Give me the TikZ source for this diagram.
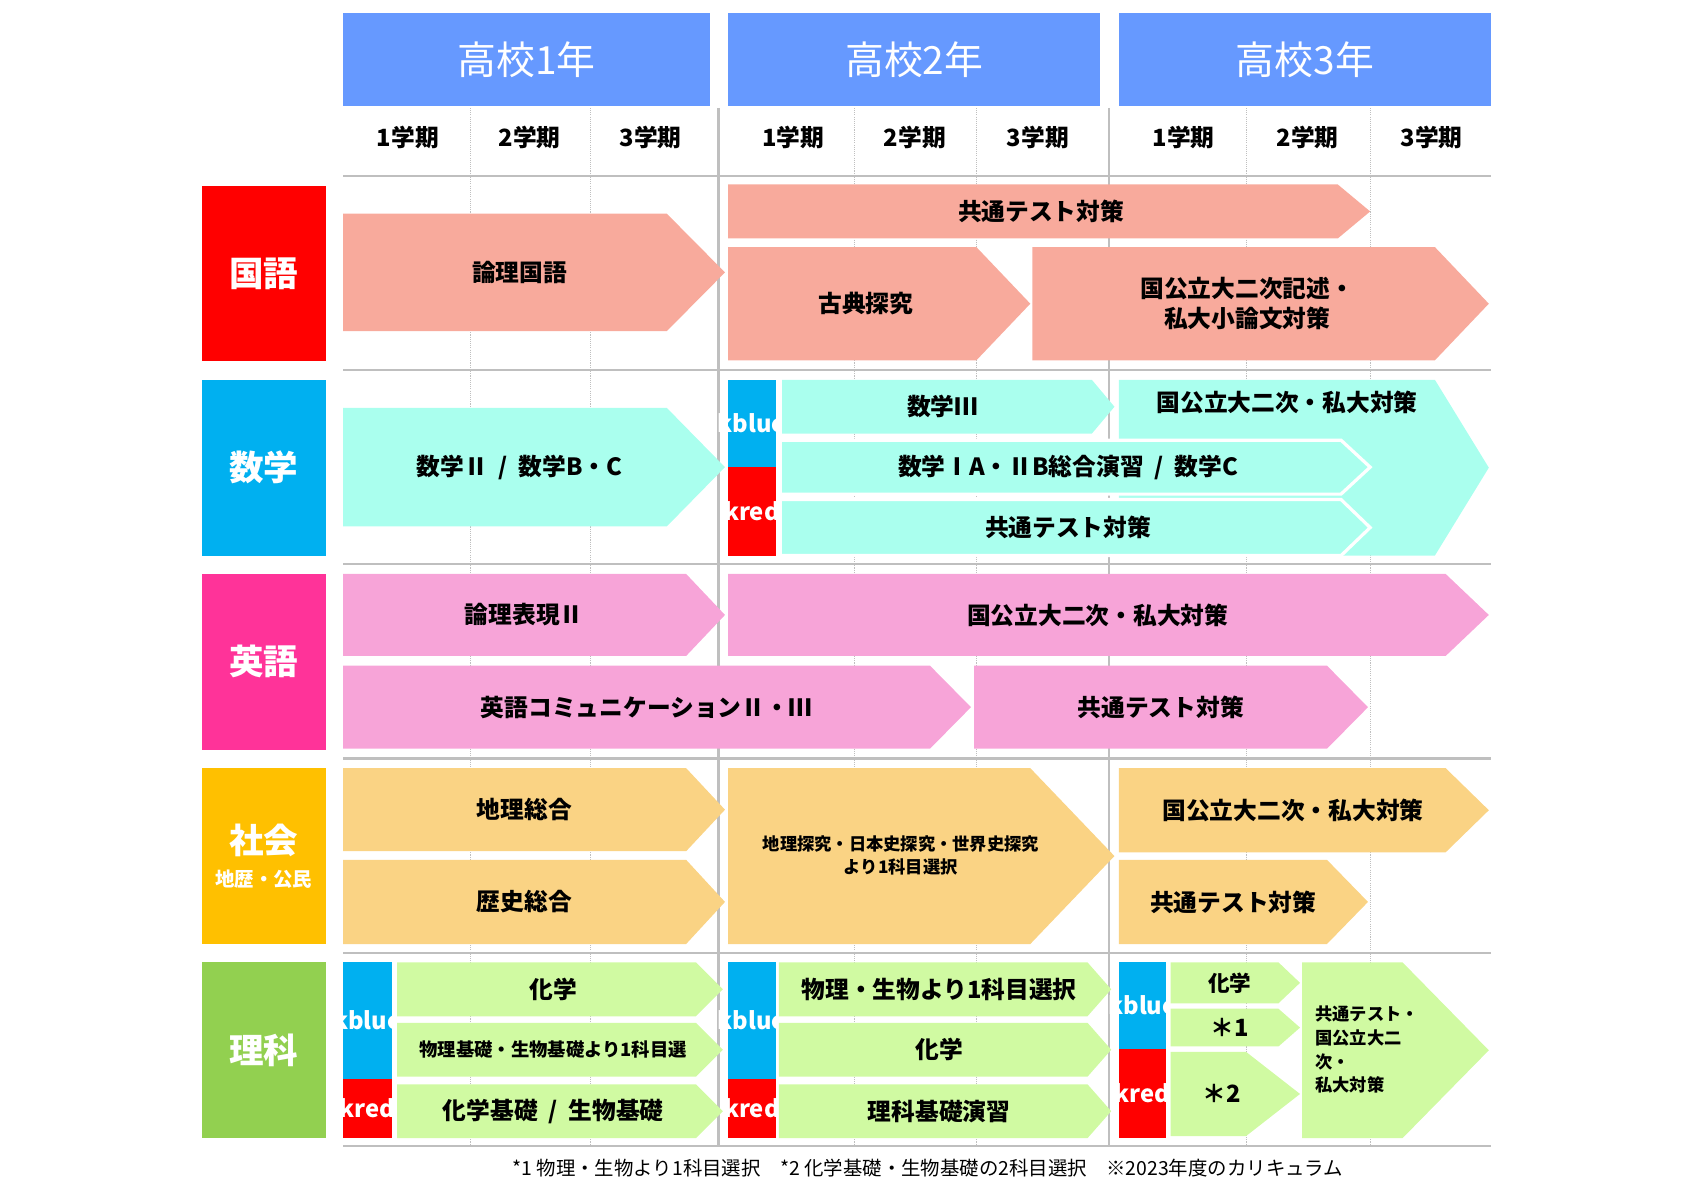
\documentclass[tikz,border=0pt]{standalone}
\usepackage{fontspec}
\setmainfont{Noto Sans CJK JP}
\usetikzlibrary{positioning}
\definecolor{headblue}{RGB}{102,153,255}
\definecolor{kred}{RGB}{255,0,0}
\definecolor{kblue}{RGB}{0,176,240}
\definecolor{kpink}{RGB}{255,51,153}
\definecolor{korange}{RGB}{255,192,0}
\definecolor{kgreen}{RGB}{146,208,80}
\definecolor{fsalmon}{RGB}{248,170,156}
\definecolor{faqua}{RGB}{170,255,238}
\definecolor{fpink}{RGB}{247,164,216}
\definecolor{forange}{RGB}{250,211,132}
\definecolor{fgreen}{RGB}{208,250,162}
\newcommand{\arrbox}[8]{%
  \fill[#7] (#2,#3) -- (#6,#3) -- (#4,{(#3+#5)/2}) -- (#6,#5) -- (#2,#5) -- cycle;
  \node[lbl] (#1) at ({(#2+(#6+#4)/2)/2},{(#3+#5)/2}) {#8};}
\newcommand{\tag}[6]{%
  \fill[#6] (#2,#3) rectangle (#4,#5);
  \node[tagtxt] (#1) at ({(#2+#4)/2},{(#3+#5)/2}) {#6};}
\begin{document}
\begin{tikzpicture}[
    x=1pt, y=-1pt,
    lbl/.style={font=\bfseries\fontsize{22}{28}\selectfont, align=center, inner sep=0pt},
    small/.style={font=\bfseries\fontsize{16}{22}\selectfont},
    head/.style={fill=headblue, text=white, font=\fontsize{36}{40}\selectfont, inner sep=0pt, minimum height=86pt},
    term/.style={font=\bfseries\fontsize{22}{26}\selectfont},
    subj/.style={text=white, font=\bfseries\fontsize{32}{36}\selectfont, inner sep=0pt, minimum width=115pt, minimum height=163pt, align=center},
    tagtxt/.style={text=white, font=\bfseries\fontsize{22}{26}\selectfont, align=center, inner sep=0pt},
    grid/.style={draw=black!25, line width=2pt},
    sub/.style={draw=black!25, densely dotted, line width=1pt},
    cut/.style={draw=white, line width=3pt}
]
\useasboundingbox (0,0) rectangle (1560,1103);

% Header
\node[head, minimum width=340pt] (y1) at (488,55) {高校1年};
\node[head, minimum width=345pt] (y2) at (847.5,55) {高校2年};
\node[head, minimum width=345pt] (y3) at (1209.5,55) {高校3年};
\foreach \x/\t in {378/1,491/2,603/3,735/1,848/2,962/3,1097/1,1212/2,1327/3}
  \node[term] at (\x,127) {\t 学期};

% Grid
\foreach \x in {436,547,792,905,1155,1270}
  \draw[sub] (\x,100) -- (\x,1062);
\foreach \x in {666,1028}
  \draw[grid] (\x,100) -- (\x,1062);
\foreach \y in {163,343,523,703,883,1062}
  \draw[grid] (318,\y) -- (1382,\y);

% Subjects
\node[subj, fill=kred] (koku) at (244.5,253.5) {国語};
\node[subj, fill=kblue] (suu) at (244.5,433.5) {数学};
\node[subj, fill=kpink] (ei) at (244.5,613.5) {英語};
\node[subj, fill=korange] (sha) at (244.5,793.5) {社会\\[-6pt]{\fontsize{18}{20}\selectfont 地歴・公民}};
\node[subj, fill=kgreen] (ri) at (244.5,973.5) {理科};

% 国語
\arrbox{ronri}{318}{198}{672}{307}{618}{fsalmon}{論理国語}
\arrbox{kkyotsu}{675}{171}{1270}{221}{1240}{fsalmon}{共通テスト対策}
\arrbox{koten}{675}{229}{955}{334}{905}{fsalmon}{古典探究}
\arrbox{kniji}{957}{229}{1380}{334}{1330}{fsalmon}{国公立大二次記述・\\私大小論文対策}

% 数学
\arrbox{m2}{318}{378}{672}{488}{618}{faqua}{数学Ⅱ\ \ /\ \ 数学B・C}
\tag{mri}{675}{352}{719}{433}{kblue}{理\\系}
\tag{mbun}{675}{433}{719}{515}{kred}{文\\系}
\arrbox{m3}{725}{352}{1033}{402}{1012}{faqua}{数学Ⅲ}
\fill[faqua] (1037,352) -- (1330,352) -- (1380,433.5) -- (1330,515) -- (1037,515) -- cycle;
\node[lbl] (mniji) at (1193,373) {国公立大二次・私大対策};
\draw[cut, fill=faqua] (725,408) -- (1243,408) -- (1270,433) -- (1243,458) -- (725,458);
\node[lbl] (msogo) at (990,433) {数学ⅠA・ⅡB総合演習\ \ /\ \ 数学C};
\draw[cut, fill=faqua] (725,463) -- (1243,463) -- (1270,489) -- (1243,515) -- (725,515);
\node[lbl] (mkyotsu) at (990,489) {共通テスト対策};

% 英語
\arrbox{hyogen}{318}{532}{672}{608}{636}{fpink}{論理表現Ⅱ}
\arrbox{eniji}{675}{532}{1380}{608}{1340}{fpink}{国公立大二次・私大対策}
\arrbox{comm}{318}{617}{900}{694}{862}{fpink}{英語コミュニケーションⅡ・Ⅲ}
\arrbox{ekyotsu}{903}{617}{1268}{694}{1230}{fpink}{共通テスト対策}

% 社会
\arrbox{chiri}{318}{712}{672}{789}{636}{forange}{地理総合}
\arrbox{rekishi}{318}{797}{672}{875}{636}{forange}{歴史総合}
\fill[forange] (675,712) -- (955,712) -- (1033,793.5) -- (955,875) -- (675,875) -- cycle;
\node[lbl, small] (tanq) at (835,793) {地理探究・日本史探究・世界史探究\\より1科目選択};
\arrbox{sniji}{1037}{712}{1380}{790}{1340}{forange}{国公立大二次・私大対策}
\arrbox{skyotsu}{1037}{797}{1268}{875}{1230}{forange}{共通テスト対策}

% 理科
\tag{r1ri}{318}{892}{363}{1000}{kblue}{理\\系}
\tag{r1bun}{318}{1000}{363}{1055}{kred}{文\\系}
\arrbox{kagaku1}{368}{892}{670}{942}{645}{fgreen}{化学}
\arrbox{kiso}{368}{948}{670}{998}{645}{fgreen}{\fontsize{17}{20}\selectfont 物理基礎・生物基礎より1科目選}
\arrbox{kiso2}{368}{1005}{670}{1055}{645}{fgreen}{化学基礎\ \ /\ \ 生物基礎}
\tag{r2ri}{675}{892}{719}{1000}{kblue}{理\\系}
\tag{r2bun}{675}{1000}{719}{1055}{kred}{文\\系}
\arrbox{butsu}{722}{892}{1030}{942}{1008}{fgreen}{物理・生物より1科目選択}
\arrbox{kagaku2}{722}{948}{1030}{998}{1008}{fgreen}{化学}
\arrbox{enshu}{722}{1005}{1030}{1055}{1008}{fgreen}{理科基礎演習}
\tag{r3ri}{1037}{892}{1081}{972}{kblue}{理\\系}
\tag{r3bun}{1037}{972}{1081}{1055}{kred}{文\\系}
\arrbox{kagaku3}{1085}{892}{1205}{930}{1185}{fgreen}{\fontsize{20}{24}\selectfont 化学}
\arrbox{ast1}{1085}{935}{1205}{970}{1185}{fgreen}{＊1}
\arrbox{ast2}{1085}{975}{1205}{1053}{1155}{fgreen}{＊2}
\fill[fgreen] (1207,892) -- (1300,892) -- (1380,973.5) -- (1300,1055) -- (1207,1055) -- cycle;
\node[small, align=left, anchor=west, inner sep=0pt] (rniji) at (1219,973) {共通テスト・\\国公立大二\\次・\\私大対策};

% Footnote
\node[font=\fontsize{18}{22}\selectfont] (note) at (860,1083) {*1 物理・生物より1科目選択\quad *2 化学基礎・生物基礎の2科目選択\quad ※2023年度のカリキュラム};
\end{tikzpicture}
\end{document}
